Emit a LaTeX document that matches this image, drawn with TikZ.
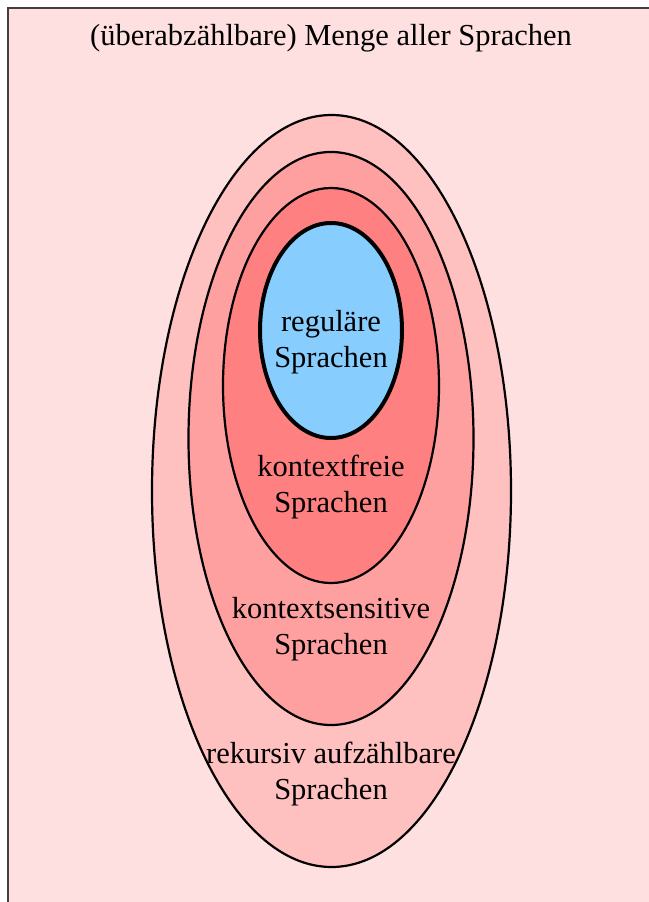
\documentclass[tikz,border=0pt]{standalone}
\usepackage{fontspec}
\setmainfont{Liberation Serif}
\begin{document}
\begin{tikzpicture}[x=1pt,y=-1pt,
  lang/.style={draw=black,line width=2.2pt},
  lbl/.style={align=center,font=\fontsize{30.5}{35.5}\selectfont,inner sep=0pt},
]
\useasboundingbox (0,0) rectangle (648,902);
\definecolor{bgpink}{HTML}{FFE0E0}
\definecolor{rekcol}{HTML}{FFC0C0}
\definecolor{kscol}{HTML}{FFA0A0}
\definecolor{kfcol}{HTML}{FF8080}
\definecolor{regcol}{HTML}{87CEFF}
\draw[fill=bgpink,draw=black!75,line width=1.5pt] (8,8) rectangle (660,915);
\node[lbl,anchor=base] (title) at (331,45) {(überabzählbare) Menge aller Sprachen};
\path[lang,fill=rekcol] (331.5,491) ellipse [x radius=179.5,y radius=376];
\path[lang,fill=kscol] (331,438.5) ellipse [x radius=142.5,y radius=286.5];
\path[lang,fill=kfcol] (331,385.5) ellipse [x radius=108,y radius=197.5];
\path[draw=black,line width=4pt,fill=regcol] (331,330.5) ellipse [x radius=71,y radius=107.5];
\node[lbl] (reg) at (331,342) {reguläre\\Sprachen};
\node[lbl] (kf) at (331,487) {kontextfreie\\Sprachen};
\node[lbl] (ks) at (331,629) {kontextsensitive\\Sprachen};
\node[lbl] (rek) at (331,774) {rekursiv aufzählbare\\Sprachen};
\end{tikzpicture}
\end{document}
